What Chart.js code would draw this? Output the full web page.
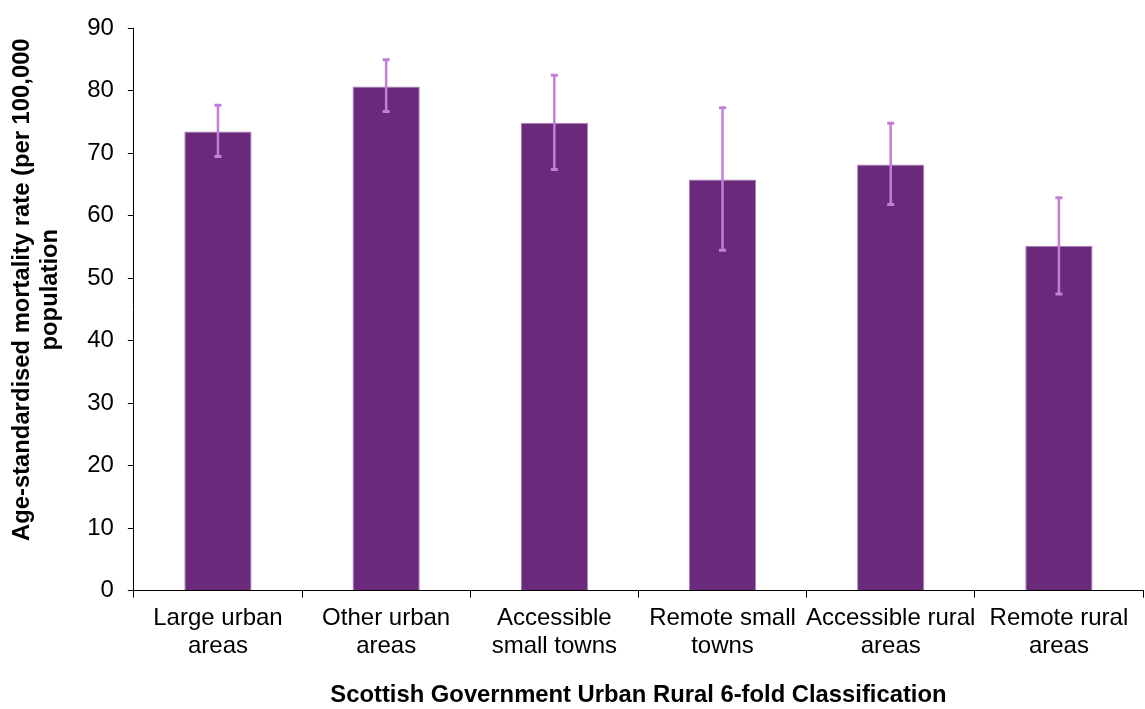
<!DOCTYPE html>
<html>
<head>
<meta charset="utf-8">
<script src="https://cdn.jsdelivr.net/npm/chart.js@4"></script>
<style>
  html, body { margin: 0; padding: 0; background: #fff; }
  #wrap { width: 1145px; height: 709px; }
</style>
</head>
<body>
<div id="wrap"><canvas id="chart"></canvas></div>
<script>
// Data
const categories = [
    ['Large urban', 'areas'],
    ['Other urban', 'areas'],
    ['Accessible', 'small towns'],
    ['Remote small', 'towns'],
    ['Accessible rural', 'areas'],
    ['Remote rural', 'areas']
];
const rates = [73.5, 80.7, 74.9, 65.8, 68.2, 55.2];
const lowerCI = [69.5, 76.7, 67.4, 54.5, 61.8, 47.5];
const upperCI = [77.7, 85.0, 82.5, 77.3, 74.8, 62.9];
const yTicks = [0, 10, 20, 30, 40, 50, 60, 70, 80, 90];

// Draw the confidence interval whiskers on top of the bars
const errorBars = {
    id: 'errorBars',
    afterDatasetsDraw(chart) {
        const ctx = chart.ctx;
        const yScale = chart.scales.y;
        const meta = chart.getDatasetMeta(0);
        ctx.save();
        ctx.strokeStyle = '#c27fd9';
        meta.data.forEach((bar, i) => {
            const top = yScale.getPixelForValue(upperCI[i]);
            const bottom = yScale.getPixelForValue(lowerCI[i]);
            ctx.lineWidth = 2.5;
            ctx.beginPath();
            ctx.moveTo(bar.x, top);
            ctx.lineTo(bar.x, bottom);
            ctx.stroke();
            ctx.lineWidth = 3;
            ctx.beginPath();
            ctx.moveTo(bar.x - 3.5, top);
            ctx.lineTo(bar.x + 3.5, top);
            ctx.moveTo(bar.x - 3.5, bottom);
            ctx.lineTo(bar.x + 3.5, bottom);
            ctx.stroke();
        });
        ctx.restore();
    }
};

Chart.defaults.font.family = '"Liberation Sans", Arial, sans-serif';
Chart.defaults.color = '#000';

// leading spaces nudge the rotated title up a little, as in the original
const pad = '\u00a0'.repeat(6);

new Chart(document.getElementById('chart'), {
    type: 'bar',
    data: {
        labels: categories,
        datasets: [{
            data: rates,
            backgroundColor: '#6b297c',
            borderColor: '#a785b5',
            borderWidth: 1,
            categoryPercentage: 1,
            barPercentage: 0.4
        }]
    },
    options: {
        responsive: true,
        maintainAspectRatio: false,
        animation: false,
        layout: { padding: { top: 11, right: 2, left: 8, bottom: 0 } },
        plugins: {
            legend: { display: false },
            tooltip: { enabled: false }
        },
        scales: {
            x: {
                grid: {
                    offset: true,
                    drawOnChartArea: false,
                    drawTicks: true,
                    tickLength: 7,
                    color: '#000'
                },
                border: { display: true, color: '#000', width: 1 },
                ticks: {
                    font: { size: 24, lineHeight: 1.15 },
                    padding: 7,
                    maxRotation: 0,
                    autoSkip: false
                },
                title: {
                    display: true,
                    text: 'Scottish Government Urban Rural 6-fold Classification',
                    font: { size: 23.8, weight: 'bold', lineHeight: 1.1 },
                    padding: { top: 16, bottom: 0 }
                }
            },
            y: {
                min: 0,
                max: 90,
                afterBuildTicks(scale) {
                    scale.ticks = yTicks.map(v => ({ value: v }));
                },
                grid: {
                    drawOnChartArea: false,
                    drawTicks: true,
                    tickLength: 6,
                    color: '#000'
                },
                border: { display: true, color: '#000', width: 1 },
                ticks: {
                    font: { size: 24 },
                    padding: 14
                },
                title: {
                    display: true,
                    text: [pad + 'Age-standardised mortality rate (per 100,000', pad + 'population'],
                    font: { size: 23.8, weight: 'bold', lineHeight: 1.18 },
                    padding: { top: 0, bottom: 9 }
                }
            }
        }
    },
    plugins: [errorBars]
});
</script>
</body>
</html>
